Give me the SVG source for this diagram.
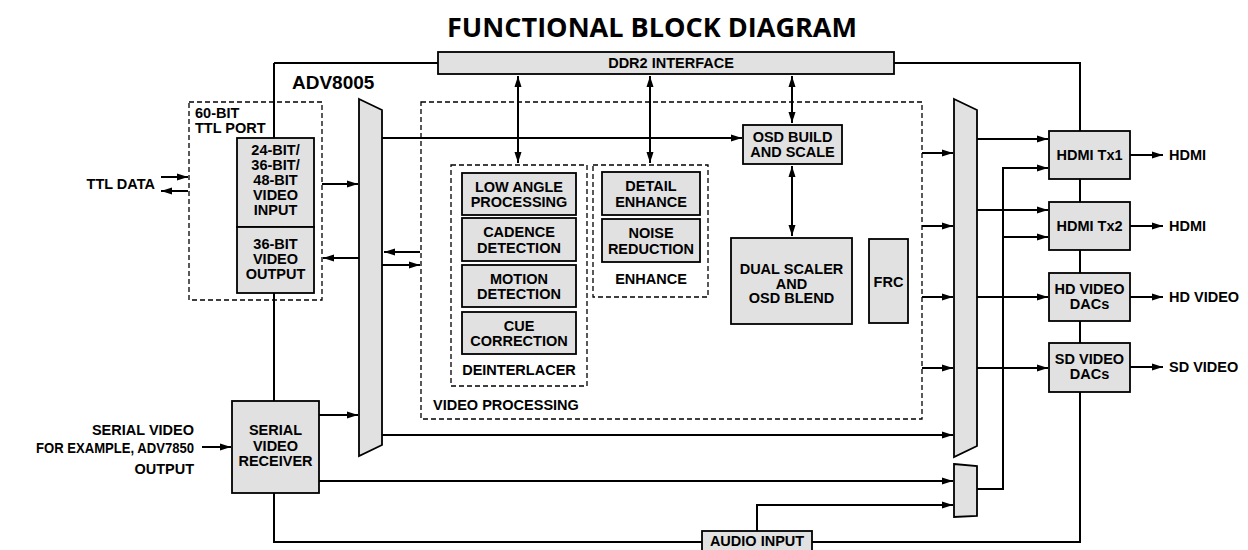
<svg xmlns="http://www.w3.org/2000/svg" width="1248" height="550" viewBox="0 0 1248 550">
<style>
.box{fill:#e1e1e1;stroke:#000;stroke-width:1.8}
.dash{fill:none;stroke:#000;stroke-width:1.3;stroke-dasharray:5 3}
.ln{fill:none;stroke:#000;stroke-width:2}
.a{marker-end:url(#ah)}
.b{marker-start:url(#ahs);marker-end:url(#ah)}
.t{font-family:"Liberation Sans",Arial,sans-serif;font-weight:bold;font-size:14.5px;fill:#000}
.c{text-anchor:middle}
.e{text-anchor:end}
</style>
<defs>
<marker id="ah" markerUnits="userSpaceOnUse" markerWidth="12" markerHeight="8" refX="11" refY="4" orient="auto"><path d="M0,0.5 L11,4 L0,7.5 z" fill="#000"/></marker>
<marker id="ahs" markerUnits="userSpaceOnUse" markerWidth="12" markerHeight="8" refX="0" refY="4" orient="auto"><path d="M11,0.5 L0,4 L11,7.5 z" fill="#000"/></marker>
</defs>
<rect width="1248" height="550" fill="#fff"/>
<text x="447" y="37" font-family="'Open Sans','Noto Sans',sans-serif" font-weight="bold" font-size="27" textLength="410" lengthAdjust="spacingAndGlyphs">FUNCTIONAL BLOCK DIAGRAM</text>

<g id="connectors">
<path class="ln" d="M274,63 H438 M894,63 H1080 V542 H274 V63"/>
<path class="ln b" d="M518,76 V163"/>
<path class="ln b" d="M650,76 V163"/>
<path class="ln b" d="M792,76 V123"/>
<path class="ln b" d="M792,166 V236"/>
<path class="ln a" d="M161,177 H188"/>
<path class="ln a" d="M188,191 H161"/>
<path class="ln a" d="M322,184 H358"/>
<path class="ln a" d="M359,258 H323"/>
<path class="ln a" d="M420,252 H384"/>
<path class="ln a" d="M382,265 H420"/>
<path class="ln a" d="M382,138 H742"/>
<path class="ln a" d="M922,153 H953"/>
<path class="ln a" d="M922,226 H953"/>
<path class="ln a" d="M922,297 H953"/>
<path class="ln a" d="M922,368 H953"/>
<path class="ln a" d="M382,435 H953"/>
<path class="ln a" d="M319,415 H358"/>
<path class="ln a" d="M202,447 H231"/>
<path class="ln a" d="M319,481 H953"/>
<path class="ln a" d="M757,531 V505 H953"/>
<path class="ln a" d="M977,489 H1003 V168 H1048"/>
<path class="ln a" d="M1003,237 H1048"/>
<path class="ln a" d="M977,139 H1048"/>
<path class="ln a" d="M977,210 H1048"/>
<path class="ln a" d="M977,297 H1048"/>
<path class="ln a" d="M977,368 H1048"/>
<path class="ln a" d="M1130,155 H1163"/>
<path class="ln a" d="M1130,226 H1163"/>
<path class="ln a" d="M1130,297 H1163"/>
<path class="ln a" d="M1130,367 H1163"/>
</g>

<g id="ddr2"><rect class="box" x="438" y="52" width="456" height="22"/><text class="t c" x="671" y="68">DDR2 INTERFACE</text></g>
<g id="chip-label"><text class="t" x="292" y="89" style="font-size:19px">ADV8005</text></g>

<g id="ttl-port"><rect class="dash" x="189" y="102" width="133" height="198"/><text class="t" x="195" y="118">60-BIT</text><text class="t" x="195" y="133">TTL PORT</text></g>
<g id="video-input"><rect class="box" x="237" y="138" width="77" height="89"/>
<text class="t c" x="275.5" y="155">24-BIT/</text><text class="t c" x="275.5" y="170">36-BIT/</text><text class="t c" x="275.5" y="185">48-BIT</text><text class="t c" x="275.5" y="200">VIDEO</text><text class="t c" x="275.5" y="215">INPUT</text></g>
<g id="video-output"><rect class="box" x="237" y="227" width="77" height="66"/>
<text class="t c" x="275.5" y="249">36-BIT</text><text class="t c" x="275.5" y="264">VIDEO</text><text class="t c" x="275.5" y="279">OUTPUT</text></g>
<g id="ttl-data"><text class="t e" x="155" y="189">TTL DATA</text></g>

<g id="mux-left"><polygon class="box" points="359,99 382,110 382,445 359,456"/></g>

<g id="video-processing"><rect class="dash" x="421" y="102" width="501" height="317"/><text class="t" x="433" y="410">VIDEO PROCESSING</text></g>
<g id="deinterlacer"><rect class="dash" x="451" y="165" width="136" height="221"/><text class="t c" x="519" y="375">DEINTERLACER</text></g>
<g id="low-angle"><rect class="box" x="462" y="173" width="114" height="42"/><text class="t c" x="519" y="191.5">LOW ANGLE</text><text class="t c" x="519" y="207">PROCESSING</text></g>
<g id="cadence"><rect class="box" x="462" y="218" width="114" height="43"/><text class="t c" x="519" y="237">CADENCE</text><text class="t c" x="519" y="252.5">DETECTION</text></g>
<g id="motion"><rect class="box" x="462" y="265" width="114" height="42"/><text class="t c" x="519" y="283.5">MOTION</text><text class="t c" x="519" y="299">DETECTION</text></g>
<g id="cue"><rect class="box" x="462" y="312" width="114" height="42"/><text class="t c" x="519" y="330.5">CUE</text><text class="t c" x="519" y="346">CORRECTION</text></g>

<g id="enhance"><rect class="dash" x="593" y="165" width="115" height="132"/><text class="t c" x="651" y="284">ENHANCE</text></g>
<g id="detail-enhance"><rect class="box" x="602" y="172" width="98" height="43"/><text class="t c" x="651" y="191">DETAIL</text><text class="t c" x="651" y="206.5">ENHANCE</text></g>
<g id="noise-reduction"><rect class="box" x="602" y="219" width="98" height="43"/><text class="t c" x="651" y="238">NOISE</text><text class="t c" x="651" y="253.5">REDUCTION</text></g>

<g id="osd-build"><rect class="box" x="743" y="125" width="99" height="39"/><text class="t c" x="792.5" y="142">OSD BUILD</text><text class="t c" x="792.5" y="157">AND SCALE</text></g>
<g id="dual-scaler"><rect class="box" x="731" y="238" width="121" height="86"/><text class="t c" x="791.5" y="274">DUAL SCALER</text><text class="t c" x="791.5" y="288.5">AND</text><text class="t c" x="791.5" y="303">OSD BLEND</text></g>
<g id="frc"><rect class="box" x="869" y="239" width="39" height="84"/><text class="t c" x="888.5" y="287">FRC</text></g>

<g id="mux-right"><polygon class="box" points="954,99 977,110 977,446 954,457"/></g>
<g id="mux-audio"><polygon class="box" points="954,464 977,466 977,516 954,517"/></g>

<g id="hdmi-tx1"><rect class="box" x="1049" y="131" width="81" height="48"/><text class="t c" x="1089.5" y="160">HDMI Tx1</text></g>
<g id="hdmi-tx2"><rect class="box" x="1049" y="202" width="81" height="48"/><text class="t c" x="1089.5" y="231">HDMI Tx2</text></g>
<g id="hd-dacs"><rect class="box" x="1049" y="273" width="81" height="48"/><text class="t c" x="1089.5" y="294">HD VIDEO</text><text class="t c" x="1089.5" y="309">DACs</text></g>
<g id="sd-dacs"><rect class="box" x="1049" y="343" width="81" height="49"/><text class="t c" x="1089.5" y="364">SD VIDEO</text><text class="t c" x="1089.5" y="379">DACs</text></g>
<g id="outputs"><text class="t" x="1169" y="160">HDMI</text><text class="t" x="1169" y="231">HDMI</text><text class="t" x="1169" y="302">HD VIDEO</text><text class="t" x="1169" y="372">SD VIDEO</text></g>

<g id="serial-receiver"><rect class="box" x="232" y="401" width="87" height="92"/><text class="t c" x="275.5" y="435">SERIAL</text><text class="t c" x="275.5" y="450.5">VIDEO</text><text class="t c" x="275.5" y="466">RECEIVER</text></g>
<g id="serial-input"><text class="t e" x="194" y="435">SERIAL VIDEO</text><text class="t e" x="194" y="453" textLength="158" lengthAdjust="spacingAndGlyphs">FOR EXAMPLE, ADV7850</text><text class="t e" x="194" y="474">OUTPUT</text></g>

<g id="audio-input"><rect class="box" x="702" y="531" width="110" height="22"/><text class="t c" x="757" y="546">AUDIO INPUT</text></g>
</svg>
